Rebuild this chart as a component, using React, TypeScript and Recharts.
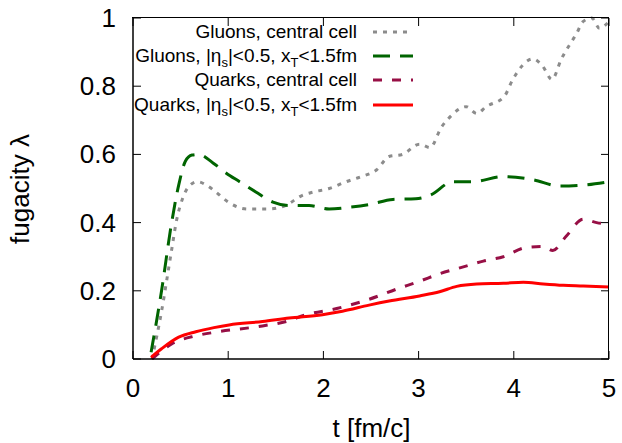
import React from 'react';
import { LineChart, Line, XAxis, YAxis, Label } from 'recharts';

const FONT = '"Liberation Sans", Arial, Helvetica, sans-serif';

const xTicks = [0, 1, 2, 3, 4, 5];
const yTicks = [0, 0.2, 0.4, 0.6, 0.8, 1];
const yTickLabels = ['0', '0.2', '0.4', '0.6', '0.8', '1'];
const X_MAX = 5;
const Y_MAX = 1;

const gluonCentralT = [0.2, 0.3, 0.4, 0.46, 0.52, 0.6, 0.68, 0.77, 0.87, 1.0, 1.2, 1.43, 1.6, 1.78, 1.9, 2.06, 2.24, 2.4, 2.56, 2.69, 2.83, 3.01, 3.12, 3.24, 3.33, 3.5, 3.61, 3.71, 3.9, 3.99, 4.2, 4.3, 4.4, 4.5, 4.66, 4.73, 4.82, 4.9, 5.0];
const gluonCentralL = [0.0, 0.14, 0.31, 0.41, 0.47, 0.51, 0.52, 0.51, 0.49, 0.46, 0.44, 0.44, 0.45, 0.48, 0.49, 0.5, 0.52, 0.535, 0.555, 0.594, 0.6, 0.63, 0.62, 0.68, 0.71, 0.74, 0.72, 0.74, 0.77, 0.82, 0.88, 0.86, 0.82, 0.88, 0.955, 0.99, 1.0, 0.97, 0.99];

const gluonRegionT = [0.19, 0.3, 0.4, 0.48, 0.55, 0.62, 0.69, 0.84, 0.98, 1.12, 1.29, 1.47, 1.64, 1.85, 2.06, 2.27, 2.48, 2.73, 2.97, 3.12, 3.36, 3.57, 3.89, 4.2, 4.48, 4.73, 5.0];
const gluonRegionL = [0.02, 0.2, 0.39, 0.51, 0.58, 0.598, 0.6, 0.575, 0.545, 0.52, 0.49, 0.46, 0.45, 0.45, 0.44, 0.445, 0.453, 0.468, 0.47, 0.48, 0.52, 0.52, 0.535, 0.526, 0.507, 0.51, 0.52];

const quarkCentralT = [0.2, 0.41, 0.66, 0.9, 1.36, 1.61, 1.82, 2.14, 2.48, 2.77, 3.01, 3.22, 3.47, 3.68, 3.89, 4.13, 4.31, 4.41, 4.55, 4.73, 4.87, 5.0];
const quarkCentralL = [0.0, 0.045, 0.068, 0.08, 0.097, 0.11, 0.13, 0.148, 0.175, 0.205, 0.228, 0.25, 0.27, 0.287, 0.3, 0.327, 0.33, 0.318, 0.36, 0.41, 0.4, 0.395];

const quarkRegionT = [0.19, 0.3, 0.48, 0.66, 0.85, 1.01, 1.36, 1.64, 1.99, 2.2, 2.48, 2.69, 3.01, 3.22, 3.4, 3.61, 3.89, 4.1, 4.31, 4.52, 4.73, 5.0];
const quarkRegionL = [0.005, 0.03, 0.064, 0.08, 0.092, 0.1, 0.11, 0.12, 0.13, 0.14, 0.158, 0.17, 0.185, 0.197, 0.213, 0.22, 0.222, 0.225, 0.22, 0.216, 0.214, 0.211];

const zip = (ts: number[], vs: number[]) => ts.map((t, i) => ({ t, v: vs[i] }));

const series = [
  { key: 'gc', data: zip(gluonCentralT, gluonCentralL), color: '#8c8c8c', dash: '4 6', width: 3 },
  { key: 'gr', data: zip(gluonRegionT, gluonRegionL), color: '#006400', dash: '17 10', width: 3 },
  { key: 'qc', data: zip(quarkCentralT, quarkCentralL), color: '#970f45', dash: '9 10', width: 3 },
  { key: 'qr', data: zip(quarkRegionT, quarkRegionL), color: '#ff0000', dash: undefined, width: 3 },
];

// Layout constants (chart box and margins)
const CHART_W = 622;
const CHART_H = 443;
const MARGIN = { top: 18, right: 13, bottom: 0, left: 0 };
const Y_AXIS_W = 133;
const X_AXIS_H = 84;
const PLOT_L = MARGIN.left + Y_AXIS_W;
const PLOT_T = MARGIN.top;
const PLOT_W = CHART_W - MARGIN.left - MARGIN.right - Y_AXIS_W;
const PLOT_H = CHART_H - MARGIN.top - MARGIN.bottom - X_AXIS_H;

const sub = { fontSize: 13, verticalAlign: -5 } as const;
const legendLabels: React.ReactNode[] = [
  <>Gluons, central cell</>,
  <>Gluons, |η<span style={sub}>s</span>|&lt;0.5, x<span style={sub}>T</span>&lt;1.5fm</>,
  <>Quarks, central cell</>,
  <>Quarks, |η<span style={sub}>s</span>|&lt;0.5, x<span style={sub}>T</span>&lt;1.5fm</>,
];
const legendRowsY = [32, 56, 80, 105];

const Overlay = () => (
  <div style={{ position: 'absolute', left: 0, top: 0, width: CHART_W, height: CHART_H, pointerEvents: 'none' }}>
    {/* top and right border of the plot frame */}
    <div
      style={{
        position: 'absolute',
        left: PLOT_L - 0.75,
        top: PLOT_T - 0.75,
        width: PLOT_W,
        height: PLOT_H,
        borderTop: '1.5px solid #000',
        borderRight: '1.5px solid #000',
      }}
    />
    {series.map((s, i) => (
      <React.Fragment key={s.key}>
        <div
          style={{
            position: 'absolute',
            right: CHART_W - 357,
            top: legendRowsY[i] - 11,
            height: 22,
            lineHeight: '22px',
            fontSize: 19,
            fontFamily: FONT,
            color: '#000',
            whiteSpace: 'nowrap',
          }}
        >
          {legendLabels[i]}
        </div>
        <svg style={{ position: 'absolute', left: 372, top: legendRowsY[i] - 5 }} width={42} height={10}>
          <line x1={1} y1={5} x2={41} y2={5} stroke={s.color} strokeWidth={s.width} strokeDasharray={s.dash} />
        </svg>
      </React.Fragment>
    ))}
  </div>
);

// Bottom tick: inward tick, mirrored tick on top border, label
const BottomTick = (props: any) => {
  const { x, y, payload } = props;
  const topY = y - PLOT_H;
  return (
    <g>
      <line x1={x} y1={y} x2={x} y2={y - 8} stroke="#000" strokeWidth={1} />
      <line x1={x} y1={topY} x2={x} y2={topY + 8} stroke="#000" strokeWidth={1} />
      <text x={x} y={y + 38} textAnchor="middle" fontSize={26} fontFamily={FONT} fill="#000">
        {payload.value}
      </text>
    </g>
  );
};

// Left tick: inward tick, mirrored tick on right border, label
const LeftTick = (props: any) => {
  const { x, y, payload, index } = props;
  const rightX = x + PLOT_W;
  return (
    <g>
      <line x1={x} y1={y} x2={x + 8} y2={y} stroke="#000" strokeWidth={1} />
      <line x1={rightX} y1={y} x2={rightX - 8} y2={y} stroke="#000" strokeWidth={1} />
      <text x={x - 17} y={y + 9} textAnchor="end" fontSize={26} fontFamily={FONT} fill="#000">
        {yTickLabels[index] ?? payload.value}
      </text>
    </g>
  );
};

export default function App() {
  return (
    <div style={{ position: 'absolute', left: 0, top: 0, width: CHART_W, height: CHART_H, background: '#fff' }}>
      <LineChart width={CHART_W} height={CHART_H} margin={MARGIN}>
        <XAxis
          dataKey="t"
          type="number"
          domain={[0, X_MAX]}
          ticks={xTicks}
          height={X_AXIS_H}
          tickSize={0}
          tickMargin={0}
          tickLine={false}
          tick={<BottomTick />}
          interval={0}
          axisLine={{ stroke: '#000', strokeWidth: 1.5 }}
        >
          <Label
            content={() => (
              <text x={371.5} y={437} textAnchor="middle" fontSize={26} fontFamily={FONT} fill="#000">
                t [fm/c]
              </text>
            )}
          />
        </XAxis>
        <YAxis
          type="number"
          domain={[0, Y_MAX]}
          ticks={yTicks}
          width={Y_AXIS_W}
          tickSize={0}
          tickMargin={0}
          tickLine={false}
          tick={<LeftTick />}
          interval={0}
          axisLine={{ stroke: '#000', strokeWidth: 1.5 }}
        >
          <Label
            content={() => (
              <text
                x={20}
                y={189}
                textAnchor="middle"
                dominantBaseline="central"
                transform="rotate(-90 20 189)"
                fontSize={26}
                fontFamily={FONT}
                fill="#000"
              >
                fugacity λ
              </text>
            )}
          />
        </YAxis>
        {series.map((s) => (
          <Line
            key={s.key}
            data={s.data}
            dataKey="v"
            type="monotone"
            stroke={s.color}
            strokeWidth={s.width}
            strokeDasharray={s.dash}
            dot={false}
            activeDot={false}
            isAnimationActive={false}
          />
        ))}
      </LineChart>
      <Overlay />
    </div>
  );
}
